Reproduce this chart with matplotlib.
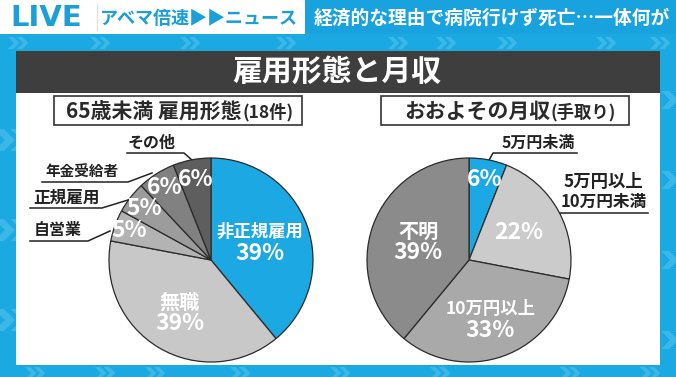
import numpy as np
import matplotlib.pyplot as plt
from matplotlib.patches import Rectangle, Polygon

W, H = 676, 377

# left pie: employment type (under 65, 18 cases)
emp_labels = ['非正規雇用', '無職', '自営業', '正規雇用', '年金受給者', 'その他']
emp_pct = [39, 39, 5, 5, 6, 6]
emp_colors = ['#1ba8e3', '#c8c8c8', '#b3b3b3', '#9c9c9c', '#818181', '#5e5e5e']

# right pie: approximate monthly take-home income
inc_labels = ['5万円未満', '5万円以上\n10万円未満', '10万円以上', '不明']
inc_pct = [6, 22, 33, 39]
inc_colors = ['#1ba8e3', '#cbcbcb', '#a9a9a9', '#8b8b8b']

JP = ['Noto Sans CJK JP', 'DejaVu Sans']
plt.rcParams['font.family'] = JP

CYAN = '#1aa9e1'
LIGHT = '#52c2ee'

fig = plt.figure(figsize=(W / 100, H / 100), dpi=100)
fig.patch.set_facecolor(CYAN)
ax = fig.add_axes([0, 0, 1, 1])
ax.set_xlim(0, W)
ax.set_ylim(H, 0)
ax.axis('off')


def chevron(x, y, h, color=LIGHT):
    t = h * 0.45
    for dx in (0, h * 0.75):
        pts = [(x + dx, y - h / 2), (x + dx + t, y - h / 2), (x + dx + t + h / 2, y),
               (x + dx + t, y + h / 2), (x + dx, y + h / 2), (x + dx + h / 2, y)]
        ax.add_patch(Polygon(pts, closed=True, color=color, lw=0, alpha=0.6))


# background decorations
for x in [8, 90, 180, 276, 388, 436, 497, 596, 650]:
    chevron(x, 43, 12)
for y in [140, 230, 320]:
    chevron(-6, y, 22)
for y in [100, 180, 260, 340]:
    chevron(661, y, 18)
for x in [25, 95, 145, 230, 330, 430, 560, 640]:
    chevron(x, 373, 12)

# top banner
ax.add_patch(Rectangle((0, 0), 305, 34, color='white', lw=0))
ax.add_patch(Rectangle((305, 0), W - 305, 34, color='#19a3de', lw=0))
ax.plot([97, 97], [4, 30], color='#e2e2e2', lw=1)
ax.text(46, 18, 'LIVE', color='#1b9fd8', fontsize=21, fontweight='bold',
        ha='center', va='center', family=['DejaVu Sans'])
ax.text(199, 18, 'アベマ倍速▶▶ニュース', color='#1b9fd8', fontsize=13,
        fontweight='bold', ha='center', va='center')
ax.text(492, 18, '経済的な理由で病院行けず死亡…一体何が', color='white',
        fontsize=13.5, fontweight='bold', ha='center', va='center')

# main panel
ax.add_patch(Rectangle((16, 51), 644, 314, color='white', lw=0))
ax.add_patch(Rectangle((16, 51), 644, 42, color='#3e3e3e', lw=0))
ax.text(337, 72, '雇用形態と月収', color='white', fontsize=21.5,
        fontweight='bold', ha='center', va='center')

# subtitle boxes
ax.add_patch(Rectangle((54, 96), 248, 29, facecolor='white', edgecolor='#333333', lw=1.2))
ax.text(242, 111, '65歳未満 雇用形態', fontsize=15, fontweight='bold', color='#2a2a2a',
        ha='right', va='center')
ax.text(243, 112, '(18件)', fontsize=12.5, fontweight='bold', color='#2a2a2a',
        ha='left', va='center')
ax.add_patch(Rectangle((381, 96), 248, 29, facecolor='white', edgecolor='#333333', lw=1.2))
ax.text(550, 111, 'おおよその月収', fontsize=15, fontweight='bold', color='#2a2a2a',
        ha='right', va='center')
ax.text(551, 112, '(手取り)', fontsize=12.5, fontweight='bold', color='#2a2a2a',
        ha='left', va='center')


def draw_pie(cx, cy, r, vals, colors, labels, inside, dist, name_size):
    m = 4
    pax = fig.add_axes([(cx - r - m) / W, 1 - (cy + r + m) / H,
                        2 * (r + m) / W, 2 * (r + m) / H])
    wedges, _ = pax.pie(vals, colors=colors, startangle=90, counterclock=False,
                        radius=1, wedgeprops=dict(edgecolor='#2b2b2b', linewidth=0.9))
    lim = (r + m) / r
    pax.set_xlim(-lim, lim)
    pax.set_ylim(-lim, lim)
    pax.set_aspect('equal')
    pax.axis('off')
    for w, v, lab, ins, d, ns in zip(wedges, vals, labels, inside, dist, name_size):
        th = np.deg2rad((w.theta1 + w.theta2) / 2)
        x, y = d * np.cos(th), d * np.sin(th)
        if ins:
            pax.annotate(lab, (x, y), xytext=(0, 7.5), textcoords='offset points',
                         ha='center', va='center', color='white', fontsize=ns,
                         fontweight='bold')
            pax.annotate(f'{v}%', (x, y), xytext=(0, -8), textcoords='offset points',
                         ha='center', va='center', color='white', fontsize=16.5,
                         fontweight='bold')
        else:
            pax.text(x, y, f'{v}%', ha='center', va='center', color='white',
                     fontsize=16.5, fontweight='bold')


draw_pie(211, 260, 102, emp_pct, emp_colors, emp_labels,
         [True, True, False, False, False, False],
         [0.51, 0.6, 0.85, 0.83, 0.84, 0.8],
         [12.5, 14.5, 12, 12, 12, 12])
draw_pie(469, 260, 102, inc_pct, inc_colors, inc_labels,
         [False, False, True, True],
         [0.8, 0.56, 0.62, 0.53],
         [12, 12, 12.5, 14.5])

# outside labels with leader lines
outside = [
    ('その他', 152, 143, 11.5, [(127, 153), (184, 153), (193, 161)]),
    ('年金受給者', 82, 172, 10.5, [(42, 182), (128, 182), (152, 173)]),
    ('正規雇用', 66, 198, 12, [(30, 208), (102, 208), (128, 200)]),
    ('自営業', 58, 230, 11.5, [(30, 241), (88, 241), (110, 231)]),
    ('5万円未満', 538, 143, 11.5, [(577, 153), (493, 153), (487, 164)]),
]
for txt, tx, ty, fs, line in outside:
    ax.text(tx, ty, txt, fontsize=fs, fontweight='bold', color='#222222',
            ha='center', va='center')
    xs, ys = zip(*line)
    ax.plot(xs, ys, color='#222222', lw=1.1)

ax.text(564, 182, '5万円以上', fontsize=12.5, fontweight='bold', color='#222222',
        ha='left', va='center')
ax.text(561, 202, '10万円未満', fontsize=12, fontweight='bold', color='#222222',
        ha='left', va='center')
ax.plot([648, 559, 549], [213, 213, 221], color='#222222', lw=1.1)

fig.savefig('out.png', dpi=100, facecolor=fig.get_facecolor())
